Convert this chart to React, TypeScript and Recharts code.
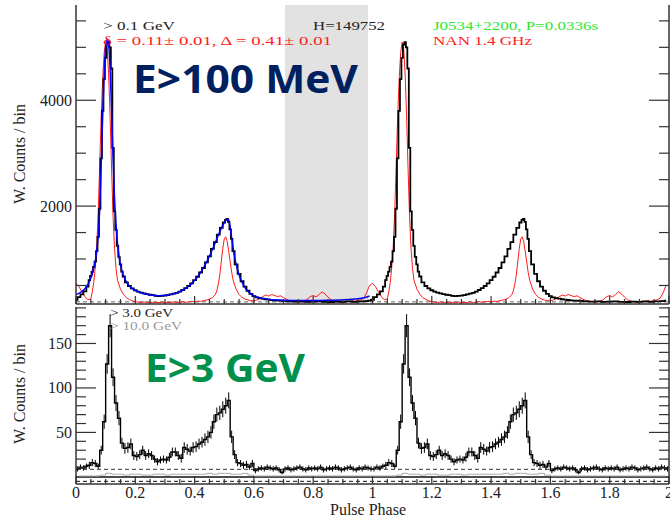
import React from 'react';
import { LineChart, Line, XAxis, YAxis, ReferenceArea, ReferenceLine, ErrorBar } from 'recharts';

// ---------- Top panel: E > 100 MeV (one rotation, repeated for phase 1-2) ----------
const gammaPhase = [
  0.0, 0.01, 0.02, 0.03, 0.04, 0.045, 0.05, 0.055, 0.06, 0.065, 0.07, 0.075, 0.08, 0.085, 0.09, 0.095,
  0.1, 0.105, 0.11, 0.115, 0.12, 0.125, 0.13, 0.135, 0.14, 0.145, 0.15, 0.155, 0.16, 0.17, 0.18, 0.19,
  0.2, 0.21, 0.22, 0.23, 0.24, 0.25, 0.26, 0.27, 0.28, 0.29, 0.3, 0.31, 0.32, 0.33, 0.34, 0.35, 0.36,
  0.37, 0.38, 0.39, 0.4, 0.41, 0.42, 0.43, 0.44, 0.45, 0.46, 0.47, 0.48, 0.49, 0.5, 0.505, 0.51, 0.515,
  0.52, 0.525, 0.53, 0.54, 0.55, 0.56, 0.57, 0.58, 0.59, 0.6, 0.61, 0.62, 0.63, 0.64, 0.65, 0.66, 0.67,
  0.68, 0.69, 0.7, 0.72, 0.74, 0.76, 0.78, 0.8, 0.82, 0.84, 0.86, 0.88, 0.9, 0.92, 0.94, 0.96, 0.98, 0.99,
];
const gammaCounts = [
  230, 280, 330, 390, 480, 600, 680, 760, 850, 950, 1150, 1420, 1950, 2900, 3800, 4400,
  4800, 5050, 5100, 5000, 4600, 3100, 1900, 1550, 1250, 1040, 900, 760, 670, 560, 490, 445,
  410, 385, 365, 350, 335, 325, 318, 305, 300, 305, 310, 318, 330, 345, 362, 385, 415,
  450, 490, 540, 600, 665, 745, 830, 935, 1050, 1190, 1320, 1460, 1590, 1690, 1740, 1760, 1700,
  1560, 1380, 1150, 900, 720, 580, 480, 400, 340, 300, 275, 260, 250, 240, 232, 226, 220,
  215, 212, 208, 200, 195, 198, 190, 195, 200, 192, 188, 196, 190, 198, 192, 200, 205, 215,
];

const fitPhase = [
  0.0, 0.01, 0.02, 0.03, 0.04, 0.05, 0.06, 0.07, 0.075, 0.08, 0.085, 0.09, 0.095, 0.1, 0.105, 0.11,
  0.115, 0.12, 0.125, 0.13, 0.135, 0.14, 0.145, 0.15, 0.16, 0.17, 0.18, 0.19, 0.2, 0.21, 0.22, 0.23,
  0.24, 0.25, 0.26, 0.27, 0.28, 0.29, 0.3, 0.31, 0.32, 0.33, 0.34, 0.35, 0.36, 0.37, 0.38, 0.39, 0.4,
  0.41, 0.42, 0.43, 0.44, 0.45, 0.46, 0.47, 0.48, 0.49, 0.5, 0.51, 0.515, 0.52, 0.525, 0.53, 0.54, 0.55,
  0.56, 0.57, 0.58, 0.59, 0.6, 0.62, 0.64, 0.66, 0.68, 0.7, 0.75, 0.8, 0.85, 0.9, 0.95, 0.97, 0.99,
];
const fitCounts = [
  330, 350, 390, 440, 520, 640, 830, 1150, 1450, 1950, 2800, 3700, 4500, 5000, 5150, 5050,
  4600, 3800, 2900, 2150, 1650, 1300, 1060, 890, 690, 570, 490, 440, 405, 380, 360, 345,
  333, 322, 315, 310, 308, 310, 315, 322, 332, 345, 362, 385, 412, 445, 485, 535, 595,
  665, 745, 835, 940, 1055, 1180, 1315, 1450, 1580, 1690, 1750, 1740, 1600, 1400, 1200, 900, 700,
  560, 460, 390, 340, 305, 265, 245, 232, 225, 220, 215, 215, 220, 230, 250, 265, 300,
];

const radioPhase = [
  0.0, 0.01, 0.02, 0.03, 0.04, 0.05, 0.055, 0.06, 0.065, 0.07, 0.075, 0.08, 0.085, 0.09, 0.095, 0.1,
  0.105, 0.11, 0.115, 0.12, 0.125, 0.13, 0.135, 0.14, 0.15, 0.16, 0.17, 0.18, 0.19, 0.2, 0.21, 0.22,
  0.23, 0.24, 0.25, 0.26, 0.27, 0.28, 0.29, 0.3, 0.31, 0.32, 0.33, 0.34, 0.35, 0.36, 0.37, 0.38, 0.39,
  0.4, 0.41, 0.42, 0.43, 0.44, 0.45, 0.46, 0.47, 0.475, 0.48, 0.485, 0.49, 0.495, 0.5, 0.505, 0.51,
  0.515, 0.52, 0.525, 0.53, 0.54, 0.55, 0.56, 0.57, 0.58, 0.59, 0.6, 0.61, 0.62, 0.63, 0.64, 0.65,
  0.66, 0.67, 0.68, 0.69, 0.7, 0.71, 0.72, 0.73, 0.74, 0.75, 0.76, 0.77, 0.78, 0.79, 0.8, 0.81, 0.82,
  0.83, 0.84, 0.85, 0.86, 0.87, 0.88, 0.89, 0.9, 0.91, 0.92, 0.93, 0.94, 0.95, 0.96, 0.97, 0.98, 0.99,
];
const radioCounts = [
  540, 480, 380, 290, 230, 250, 380, 560, 850, 1250, 1900, 2800, 3700, 4400, 4900, 5100,
  5000, 4500, 3700, 2700, 1800, 1200, 820, 600, 430, 330, 270, 235, 210, 195, 185, 178,
  190, 172, 185, 170, 182, 175, 188, 172, 180, 176, 190, 178, 185, 195, 180, 192, 200,
  190, 205, 198, 215, 225, 240, 270, 330, 400, 520, 700, 950, 1200, 1380, 1420, 1330,
  1150, 950, 750, 600, 430, 330, 275, 245, 225, 215, 210, 225, 250, 290, 320, 300,
  330, 310, 290, 305, 270, 240, 215, 200, 195, 185, 190, 205, 240, 290, 310, 285, 330,
  380, 340, 280, 230, 205, 195, 185, 190, 195, 200, 210, 205, 215, 230, 260, 360, 500,
];

// ---------- Bottom panel: E > 3 GeV (bin centres 0.005 ... 0.995) ----------
const hePhase = [
  0.005, 0.015, 0.025, 0.035, 0.045, 0.055, 0.065, 0.075, 0.085, 0.095,
  0.105, 0.115, 0.125, 0.135, 0.145, 0.155, 0.165, 0.175, 0.185, 0.195,
  0.205, 0.215, 0.225, 0.235, 0.245, 0.255, 0.265, 0.275, 0.285, 0.295,
  0.305, 0.315, 0.325, 0.335, 0.345, 0.355, 0.365, 0.375, 0.385, 0.395,
  0.405, 0.415, 0.425, 0.435, 0.445, 0.455, 0.465, 0.475, 0.485, 0.495,
  0.505, 0.515, 0.525, 0.535, 0.545, 0.555, 0.565, 0.575, 0.585, 0.595,
  0.605, 0.615, 0.625, 0.635, 0.645, 0.655, 0.665, 0.675, 0.685, 0.695,
  0.705, 0.715, 0.725, 0.735, 0.745, 0.755, 0.765, 0.775, 0.785, 0.795,
  0.805, 0.815, 0.825, 0.835, 0.845, 0.855, 0.865, 0.875, 0.885, 0.895,
  0.905, 0.915, 0.925, 0.935, 0.945, 0.955, 0.965, 0.975, 0.985, 0.995,
];
const heCounts = [
  9, 11, 10, 12, 13, 16, 15, 12, 30, 62,
  127, 170, 112, 83, 66, 38, 32, 33, 37, 24,
  23, 25, 30, 24, 26, 24, 20, 17, 19, 20,
  19, 22, 28, 28, 24, 21, 33, 31, 29, 33,
  34, 37, 39, 42, 45, 50, 62, 70, 72, 76,
  80, 86, 45, 25, 16, 15, 13, 14, 11, 15,
  7, 9, 10, 9, 11, 10, 9, 10, 8, 5,
  9, 10, 8, 9, 10, 11, 9, 8, 10, 9,
  10, 9, 11, 8, 9, 10, 9, 11, 10, 8,
  9, 10, 11, 9, 8, 10, 9, 11, 10, 9,
];
const heErr = [
  3, 3, 3, 3, 4, 4, 4, 3, 5, 8,
  11, 13, 10, 9, 8, 6, 6, 6, 6, 5,
  5, 5, 5, 5, 5, 5, 4, 4, 4, 4,
  4, 5, 5, 5, 5, 5, 6, 6, 5, 6,
  6, 6, 6, 7, 7, 7, 8, 8, 8, 9,
  9, 9, 7, 5, 4, 4, 4, 4, 3, 4,
  3, 3, 3, 3, 3, 3, 3, 3, 3, 2,
  3, 3, 3, 3, 3, 3, 3, 3, 3, 3,
  3, 3, 3, 3, 3, 3, 3, 3, 3, 3,
  3, 3, 3, 3, 3, 3, 3, 3, 3, 3,
];

// E > 10 GeV (faint grey histogram), bin centres every 0.02
const vhePhase = [
  0.01, 0.03, 0.05, 0.07, 0.09, 0.11, 0.13, 0.15, 0.17, 0.19, 0.21, 0.23, 0.25, 0.27, 0.29, 0.31, 0.33,
  0.35, 0.37, 0.39, 0.41, 0.43, 0.45, 0.47, 0.49, 0.51, 0.53, 0.55, 0.57, 0.59, 0.61, 0.63, 0.65, 0.67,
  0.69, 0.71, 0.73, 0.75, 0.77, 0.79, 0.81, 0.83, 0.85, 0.87, 0.89, 0.91, 0.93, 0.95, 0.97, 0.99,
];
const vheCounts = [
  1, 1, 1, 1, 2, 4, 3, 3, 2, 3, 3, 2, 2, 3, 3, 2, 3,
  3, 3, 3, 3, 3, 4, 3, 4, 4, 3, 3, 4, 2, 1, 1, 1, 1,
  1, 1, 1, 1, 1, 1, 1, 1, 1, 1, 1, 1, 1, 1, 1, 1,
];

// ---------- Axes ----------
const xTicks = [
  0, 0.05, 0.1, 0.15, 0.2, 0.25, 0.3, 0.35, 0.4, 0.45, 0.5, 0.55, 0.6, 0.65, 0.7, 0.75, 0.8, 0.85, 0.9, 0.95,
  1, 1.05, 1.1, 1.15, 1.2, 1.25, 1.3, 1.35, 1.4, 1.45, 1.5, 1.55, 1.6, 1.65, 1.7, 1.75, 1.8, 1.85, 1.9, 1.95, 2,
];
const xMajor = [0, 0.2, 0.4, 0.6, 0.8, 1, 1.2, 1.4, 1.6, 1.8, 2];
const xLabels = ['0', '0.2', '0.4', '0.6', '0.8', '1', '1.2', '1.4', '1.6', '1.8', '2'];
const topYTicks = [500, 1000, 1500, 2000, 2500, 3000, 3500, 4000, 4500, 5000, 5500];
const topYMajor = [2000, 4000];
const botYTicks = [10, 20, 30, 40, 50, 60, 70, 80, 90, 100, 110, 120, 130, 140, 150, 160, 170, 180, 190];
const botYMajor = [50, 100, 150];

const topDomain = [150, 5800];
const botDomain = [-8, 191];
const offPulse = [0.705, 0.985];
const topBackground = 190;
const botBackground = 8.5;

const twoTurns = (ph: number[], v: number[], err?: number[]) => {
  const a: any[] = [];
  for (let k = 0; k < 2; k++) {
    ph.forEach((p, i) => a.push({ x: p + k, y: v[i], e: err ? err[i] : 0 }));
  }
  return a;
};
const gammaData = twoTurns(gammaPhase, gammaCounts);
const radioData = twoTurns(radioPhase, radioCounts);
const fitData = fitPhase.map((p, i) => ({ x: p, y: fitCounts[i] }));
const heData = twoTurns(hePhase, heCounts, heErr);
const vheData = twoTurns(vhePhase, vheCounts);

const AX = '#333';
const SERIF = '"Liberation Serif", "Times New Roman", serif';
const serifStyle = { fontFamily: SERIF };

const isIn = (arr: number[], v: number) => arr.some((m) => Math.abs(m - v) < 1e-6);

function XTick(props: any) {
  const { x, y, payload, dir, showLabel } = props;
  const v = payload.value;
  const mi = xMajor.findIndex((m) => Math.abs(m - v) < 1e-6);
  const major = mi >= 0;
  const len = major ? 8 : 5;
  const y2 = dir === 'up' ? y - len : y + len;
  return (
    <g>
      <line x1={x} y1={y} x2={x} y2={y2} stroke={AX} strokeWidth={1.2} />
      {showLabel && major ? (
        <text x={x} y={y + 14} textAnchor="middle" style={{ ...serifStyle, fontSize: 16 }} fill="#222">
          {xLabels[mi]}
        </text>
      ) : null}
    </g>
  );
}

function YTick(props: any) {
  const { x, y, payload, side, majors } = props;
  const v = payload.value;
  const major = isIn(majors, v);
  const len = major ? 20 : 10;
  const x2 = side === 'left' ? x + len : x - len;
  return (
    <g>
      <line x1={x} y1={y} x2={x2} y2={y} stroke={AX} strokeWidth={1.2} />
      {side === 'left' && major ? (
        <text x={x - 4} y={y + 5.5} textAnchor="end" style={{ ...serifStyle, fontSize: 16 }} fill="#222">
          {String(v)}
        </text>
      ) : null}
    </g>
  );
}

function Annotations() {
  const s13 = { ...serifStyle, fontSize: 13 };
  const s16 = { ...serifStyle, fontSize: 16 };
  const big = { fontFamily: '"Open Sans", "Noto Sans", sans-serif', fontWeight: 700, fontSize: 39 };
  return (
    <svg width={670} height={518} style={{ position: 'absolute', left: 0, top: 0, pointerEvents: 'none' }}>
      <text x={103} y={30} style={s13} fill="#222" textLength={72} lengthAdjust="spacingAndGlyphs">&gt; 0.1 GeV</text>
      <text x={103} y={45} style={s13} fill="#ff2020" textLength={229} lengthAdjust="spacingAndGlyphs">δ = 0.11± 0.01, Δ = 0.41± 0.01</text>
      <text x={313} y={30} style={s13} fill="#222" textLength={72} lengthAdjust="spacingAndGlyphs">H=149752</text>
      <text x={433} y={30} style={s13} fill="#2ee62e" textLength={165} lengthAdjust="spacingAndGlyphs">J0534+2200, P=0.0336s</text>
      <text x={433} y={45} style={s13} fill="#ff2020" textLength={99} lengthAdjust="spacingAndGlyphs">NAN 1.4 GHz</text>
      <text x={110} y={317} style={s13} fill="#222" textLength={63} lengthAdjust="spacingAndGlyphs">&gt; 3.0 GeV</text>
      <text x={110} y={330} style={s13} fill="#999" textLength={72} lengthAdjust="spacingAndGlyphs">&gt; 10.0 GeV</text>
      <text transform="translate(25,154) rotate(-90)" textAnchor="middle" style={s16} fill="#222">W. Counts / bin</text>
      <text transform="translate(25,394) rotate(-90)" textAnchor="middle" style={s16} fill="#222">W. Counts / bin</text>
      <text x={368} y={515} textAnchor="middle" style={s16} fill="#222">Pulse Phase</text>
      <text x={133} y={93} style={big} fill="#002060" textLength={225} lengthAdjust="spacingAndGlyphs">E&gt;100 MeV</text>
      <text x={145} y={382} style={big} fill="#00904c" textLength={160} lengthAdjust="spacingAndGlyphs">E&gt;3 GeV</text>
    </svg>
  );
}

export default function App() {
  return (
    <div style={{ position: 'absolute', left: 0, top: 0, width: 670, height: 518, background: '#fff', overflow: 'hidden' }}>
      <div style={{ position: 'absolute', left: 0, top: 0 }}>
        <LineChart width={670} height={305} margin={{ top: 5, right: 0, bottom: 0, left: 0 }}>
          <XAxis dataKey="x" type="number" domain={[0, 2]} allowDataOverflow ticks={xTicks} interval={0}
            height={1} tickSize={0} tickMargin={0} tickLine={false} axisLine={{ stroke: AX, strokeWidth: 1.5 }}
            tick={(p: any) => <XTick {...p} dir="up" showLabel={false} />} />
          <XAxis xAxisId="t" orientation="top" dataKey="x" type="number" domain={[0, 2]} allowDataOverflow ticks={xTicks} interval={0}
            height={0} tickSize={0} tickMargin={0} tickLine={false} axisLine={{ stroke: AX, strokeWidth: 1.5 }}
            tick={(p: any) => <XTick {...p} dir="down" showLabel={false} />} />
          <YAxis type="number" domain={topDomain} allowDataOverflow ticks={topYTicks} interval={0} width={76}
            tickSize={0} tickMargin={0} tickLine={false} axisLine={{ stroke: AX, strokeWidth: 1.5 }}
            tick={(p: any) => <YTick {...p} side="left" majors={topYMajor} />} />
          <YAxis yAxisId="r" orientation="right" type="number" domain={topDomain} allowDataOverflow ticks={topYTicks} interval={0} width={1}
            tickSize={0} tickMargin={0} tickLine={false} axisLine={{ stroke: AX, strokeWidth: 1.5 }}
            tick={(p: any) => <YTick {...p} side="right" majors={topYMajor} />} />
          <ReferenceArea x1={offPulse[0]} x2={offPulse[1]} fill="#e2e2e2" fillOpacity={1} stroke="none" ifOverflow="hidden" />
          <ReferenceLine y={topBackground} stroke="#666" strokeDasharray="4 3" strokeWidth={1} />
          <Line data={radioData} dataKey="y" type="linear" stroke="#ff1a1a" strokeWidth={1} dot={false} isAnimationActive={false} />
          <Line data={gammaData} dataKey="y" type="step" stroke="#000" strokeWidth={1.8} dot={false} isAnimationActive={false} />
          <Line data={fitData} dataKey="y" type="monotone" stroke="#0000ff" strokeWidth={1.5} dot={false} isAnimationActive={false} />
        </LineChart>
      </div>
      <div style={{ position: 'absolute', left: 0, top: 0 }}>
        <LineChart width={670} height={518} margin={{ top: 307, right: 0, bottom: 0, left: 0 }}>
          <XAxis dataKey="x" type="number" domain={[0, 2]} allowDataOverflow ticks={xTicks} interval={0}
            height={34} tickSize={0} tickMargin={0} tickLine={false} axisLine={{ stroke: AX, strokeWidth: 1.5 }}
            tick={(p: any) => <XTick {...p} dir="up" showLabel={true} />} />
          <XAxis xAxisId="t" orientation="top" dataKey="x" type="number" domain={[0, 2]} allowDataOverflow ticks={xTicks} interval={0}
            height={0} tickSize={0} tickMargin={0} tickLine={false} axisLine={{ stroke: AX, strokeWidth: 1.5 }}
            tick={(p: any) => <XTick {...p} dir="down" showLabel={false} />} />
          <YAxis type="number" domain={botDomain} allowDataOverflow ticks={botYTicks} interval={0} width={76}
            tickSize={0} tickMargin={0} tickLine={false} axisLine={{ stroke: AX, strokeWidth: 1.5 }}
            tick={(p: any) => <YTick {...p} side="left" majors={botYMajor} />} />
          <YAxis yAxisId="r" orientation="right" type="number" domain={botDomain} allowDataOverflow ticks={botYTicks} interval={0} width={1}
            tickSize={0} tickMargin={0} tickLine={false} axisLine={{ stroke: AX, strokeWidth: 1.5 }}
            tick={(p: any) => <YTick {...p} side="right" majors={botYMajor} />} />
          <ReferenceLine y={botBackground} stroke="#333" strokeDasharray="4 3" strokeWidth={1} />
          <ReferenceLine y={0} stroke="#111" strokeWidth={1.5} />
          <ReferenceLine y={-5} stroke="#111" strokeDasharray="4 3" strokeWidth={1} />
          <Line data={vheData} dataKey="y" type="step" stroke="#aaa" strokeWidth={1} dot={false} isAnimationActive={false} />
          <Line data={heData} dataKey="y" type="step" stroke="#000" strokeWidth={1.4} dot={false} isAnimationActive={false}>
            <ErrorBar dataKey="e" direction="y" width={0} stroke="#000" strokeWidth={1} />
          </Line>
        </LineChart>
      </div>
      <Annotations />
    </div>
  );
}
